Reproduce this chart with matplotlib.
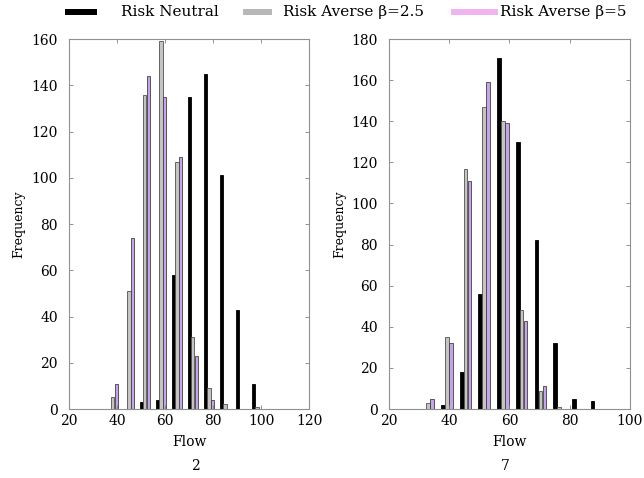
import numpy as np
import matplotlib.pyplot as plt
from matplotlib.patches import Rectangle

# panel "2"
centros_2 = [38.3, 45.0, 51.6, 58.3, 65.0, 71.6, 78.3, 85.0, 91.6, 98.3]
neutro_2 = [0, 0, 3, 4, 58, 135, 145, 101, 43, 11]
averso25_2 = [5, 51, 136, 159, 107, 31, 9, 2, 0, 1]
averso5_2 = [11, 74, 144, 135, 109, 23, 4, 0, 0, 0]

# panel "7"
centros_7 = [33.0, 39.3, 45.5, 51.6, 57.9, 64.1, 70.3, 76.5, 82.7, 88.9]
neutro_7 = [0, 2, 18, 56, 171, 130, 82, 32, 5, 4]
averso25_7 = [3, 35, 117, 147, 140, 48, 9, 1, 0, 0]
averso5_7 = [5, 32, 111, 159, 139, 43, 11, 0, 0, 0]

rotulos = ['Risk Neutral', 'Risk Averse β=2.5', 'Risk Averse β=5']
cor_neutro = 'black'
cor_25 = '#c4c4c4'
cor_5 = '#c6a4e8'

plt.rcParams['font.family'] = 'DejaVu Serif'

fig = plt.figure(figsize=(6.44, 4.78), dpi=100)
ax1 = fig.add_axes([0.107, 0.1443, 0.373, 0.774])
ax2 = fig.add_axes([0.604, 0.1443, 0.374, 0.774])


def plotar_painel(ax, centros, neutro, av25, av5, desloc, largura, xlim, ylim):
    c = np.array(centros)
    ax.bar(c - desloc, neutro, width=largura, color=cor_neutro, edgecolor='black', linewidth=0.6)
    ax.bar(c, av25, width=largura, color=cor_25, edgecolor='#505050', linewidth=0.6)
    ax.bar(c + desloc, av5, width=largura, color=cor_5, edgecolor='#404040', linewidth=0.6)
    ax.set_xlim(*xlim)
    ax.set_ylim(*ylim)
    ax.set_xticks(np.arange(xlim[0], xlim[1] + 1, 20))
    ax.set_yticks(np.arange(ylim[0], ylim[1] + 1, 20))
    ax.tick_params(direction='in', top=True, right=True, length=3, width=0.6,
                   color='#808080', labelsize=10)
    ax.tick_params(axis='y', pad=8)
    for s in ax.spines.values():
        s.set_color('#909090')
        s.set_linewidth(0.8)
    ax.set_xlabel('Flow', fontsize=10, labelpad=5)
    ax.set_ylabel('Frequency', fontsize=9, labelpad=4)


plotar_painel(ax1, centros_2, neutro_2, averso25_2, averso5_2, 1.5, 1.35, (20, 120), (0, 160))
plotar_painel(ax2, centros_7, neutro_7, averso25_7, averso5_7, 1.3, 1.15, (20, 100), (0, 180))

# legenda no topo (desenhada a mao para imitar o original)
W, H = 644.0, 478.0
leg = [(65, 32, 'black', 121), (243, 29, '#b8b8b8', 283), (451, 47, '#f0b4f0', 500)]
for (x0, w, cor, xt), txt in zip(leg, rotulos):
    fig.add_artist(Rectangle((x0 / W, 1 - 15 / H), w / W, 6 / H, facecolor=cor,
                             edgecolor='none', transform=fig.transFigure))
    fig.text(xt / W, 1 - 12 / H, txt, ha='left', va='center', fontsize=11)

fig.text(195 / W, 1 - 466 / H, '2', ha='center', va='center', fontsize=10)
fig.text(505 / W, 1 - 466 / H, '7', ha='center', va='center', fontsize=10)

plt.savefig('out.png', dpi=100)
plt.close()
